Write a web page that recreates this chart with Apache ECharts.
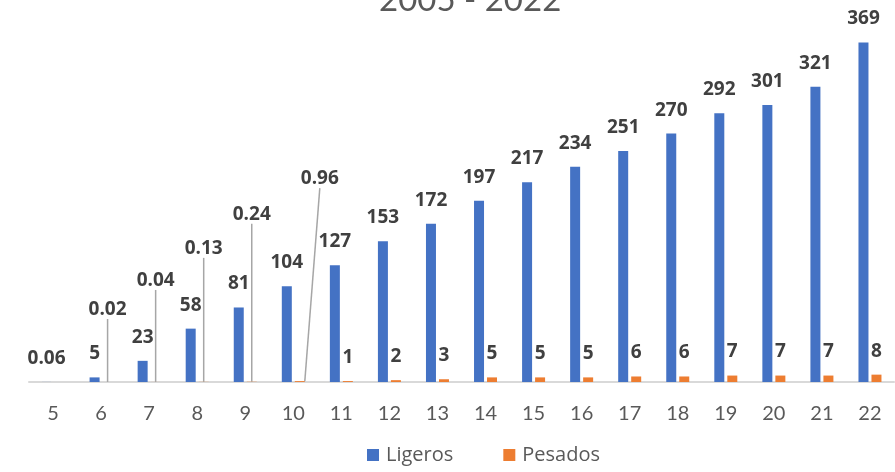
<!DOCTYPE html>
<html>
<head>
<meta charset="utf-8">
<script src="https://cdn.jsdelivr.net/npm/echarts@6/dist/echarts.min.js"></script>
<style>
    html, body { margin: 0; padding: 0; background: #fff; }
    #chart { width: 895px; height: 472px; }
</style>
</head>
<body>
<div id="chart"></div>
<script>
    // años (2005 - 2022)
    var categories = ['5', '6', '7', '8', '9', '10', '11', '12', '13', '14', '15', '16', '17', '18', '19', '20', '21', '22'];
    var ligeros = [0.06, 5, 23, 58, 81, 104, 127, 153, 172, 197, 217, 234, 251, 270, 292, 301, 321, 369];
    var pesados = [null, 0.02, 0.04, 0.13, 0.24, 0.96, 1, 2, 3, 5, 5, 5, 6, 6, 7, 7, 7, 8];

    // etiquetas de pesados desplazadas hacia arriba (con línea guía)
    var liftPesados = {1: [0, -49], 2: [0, -78], 3: [0, -110], 4: [0, -144], 5: [20, -179]};

    var labelStyle = {
        show: true,
        position: 'top',
        distance: 14,
        color: '#404040',
        fontSize: 19,
        fontWeight: 'bold',
        fontFamily: 'Open Sans'
    };

    var pesadosData = pesados.map(function (v, i) {
        return {value: v, labelLine: {show: !!liftPesados[i]}};
    });

    var chart = echarts.init(document.getElementById('chart'));
    chart.setOption({
        animation: false,
        title: {
            text: '2005 - 2022',
            left: 374,
            top: -21,
            textStyle: {color: '#595959', fontSize: 33, fontWeight: 'normal', fontFamily: 'Lato'}
        },
        legend: {
            bottom: 2,
            left: 362,
            itemWidth: 12,
            itemHeight: 12,
            itemGap: 50,
            icon: 'rect',
            textStyle: {color: '#595959', fontSize: 20, fontFamily: 'Open Sans', padding: [0, 0, 0, 2]},
            data: ['Ligeros', 'Pesados']
        },
        grid: {left: 29, right: 1, top: 14, bottom: 90},
        xAxis: {
            type: 'category',
            data: categories,
            axisLine: {lineStyle: {color: '#d9d9d9', width: 2}},
            axisTick: {show: false},
            axisLabel: {color: '#595959', fontSize: 20, fontFamily: 'Lato', margin: 22}
        },
        yAxis: {
            type: 'value',
            min: 0,
            max: 400,
            show: false,
            splitLine: {show: false}
        },
        color: ['#4472c4', '#ed7d31'],
        series: [
            {
                name: 'Ligeros',
                type: 'bar',
                data: ligeros,
                barWidth: 10,
                barGap: '30%',
                label: labelStyle
            },
            {
                name: 'Pesados',
                type: 'bar',
                data: pesadosData,
                barWidth: 10,
                label: labelStyle,
                labelLine: {show: false, lineStyle: {color: '#a6a6a6', width: 1.5}},
                labelLayout: function (params) {
                    var s = liftPesados[params.dataIndex];
                    if (s) {
                        return {dx: s[0], dy: s[1]};
                    }
                    return {};
                }
            }
        ]
    });
</script>
</body>
</html>
